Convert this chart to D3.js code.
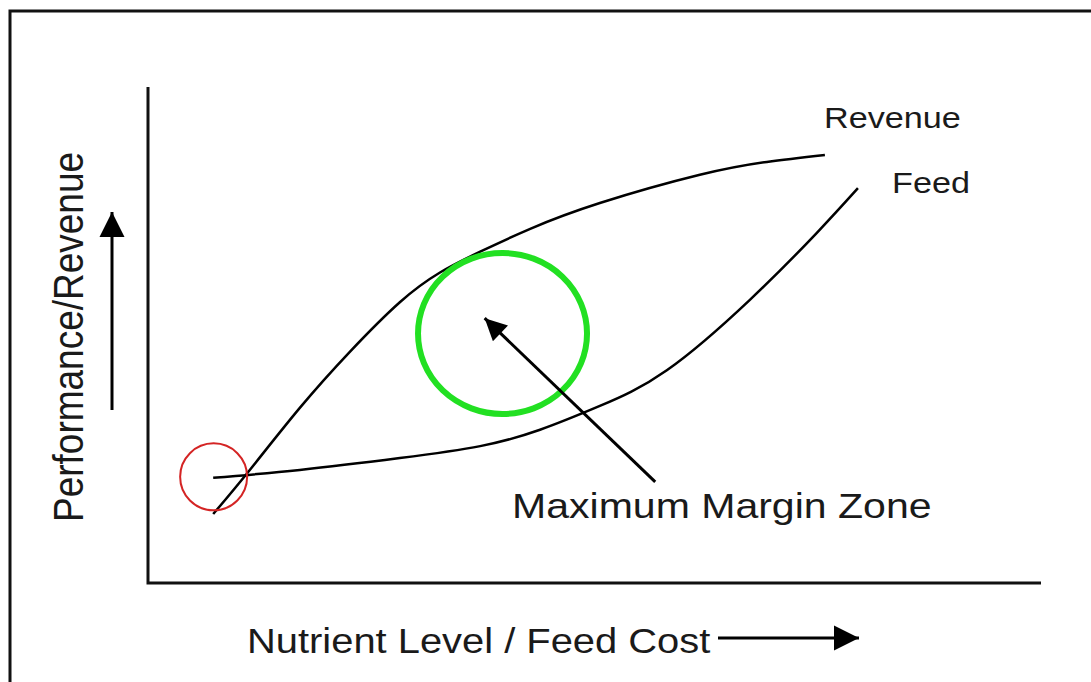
<!DOCTYPE html>
<html>
<head>
<meta charset="utf-8">
<script src="https://cdn.jsdelivr.net/npm/d3@7"></script>
<style>
  body { margin: 0; background: #fff; }
  text { font-family: "Liberation Sans", Arial, sans-serif; fill: #1a1a1a; }
</style>
</head>
<body>
<script>
  var width = 1091;
  var height = 682;

  // curve points, in axis units (0..100)
  var revenueX = [7.3, 11.4, 17.0, 22.6, 28.2, 32.7, 37.2, 42.8, 50.6, 61.8, 69.3, 75.8];
  var revenueY = [13.9, 22.8, 35.3, 46.6, 56.6, 62.6, 66.8, 71.4, 76.6, 82.3, 84.9, 86.3];
  var feedX = [7.3, 17.0, 28.2, 37.2, 43.9, 50.6, 58.1, 67.4, 74.9, 79.5];
  var feedY = [21.2, 22.8, 25.2, 27.6, 30.9, 35.7, 42.9, 57.1, 70.6, 79.6];

  // annotations
  var startZone = [7.35, 21.4];
  var marginZone = [39.7, 50.3];
  var marginArrow = [[56.8, 20.4], [37.7, 53.4]];

  var stretch = 1.14; // text in the picture is drawn a little wide

  var x = d3.scaleLinear().domain([0, 100]).range([148, 1041]);
  var y = d3.scaleLinear().domain([0, 100]).range([583, 87]);

  var svg = d3.select("body")
    .append("svg")
    .attr("width", width)
    .attr("height", height);

  var defs = svg.append("defs");
  defs.append("marker")
    .attr("id", "head")
    .attr("viewBox", "0 0 10 10")
    .attr("refX", 10)
    .attr("refY", 5)
    .attr("markerUnits", "userSpaceOnUse")
    .attr("markerWidth", 25)
    .attr("markerHeight", 26)
    .attr("orient", "auto")
    .append("path")
    .attr("d", "M0,0L10,5L0,10Z")
    .style("fill", "#000");

  defs.append("marker")
    .attr("id", "head2")
    .attr("viewBox", "0 0 10 10")
    .attr("refX", 10)
    .attr("refY", 5)
    .attr("markerUnits", "userSpaceOnUse")
    .attr("markerWidth", 24)
    .attr("markerHeight", 22)
    .attr("orient", "auto")
    .append("path")
    .attr("d", "M0,0L10,5L0,10Z")
    .style("fill", "#000");

  // frame (top and left edges only show)
  svg.append("path")
    .attr("d", "M10," + height + "V11H" + width)
    .style("fill", "none")
    .style("stroke", "#111")
    .style("stroke-width", 3);

  // axes
  svg.append("path")
    .attr("d", "M" + x(0) + "," + y(100) + "V" + y(0) + "H" + x(100))
    .style("fill", "none")
    .style("stroke", "#111")
    .style("stroke-width", 3);

  var line = d3.line()
    .x(function(d) { return x(d[0]); })
    .y(function(d) { return y(d[1]); })
    .curve(d3.curveNatural);

  var revenue = d3.zip(revenueX, revenueY);
  var feed = d3.zip(feedX, feedY);

  svg.selectAll("path.curve")
    .data([revenue, feed])
    .enter()
    .append("path")
    .attr("class", "curve")
    .attr("d", line)
    .style("fill", "none")
    .style("stroke", "#000")
    .style("stroke-width", 2.5);

  svg.append("circle")
    .attr("cx", x(startZone[0]))
    .attr("cy", y(startZone[1]))
    .attr("r", 33.5)
    .style("fill", "none")
    .style("stroke", "#d42424")
    .style("stroke-width", 2);

  svg.append("ellipse")
    .attr("cx", x(marginZone[0]))
    .attr("cy", y(marginZone[1]))
    .attr("rx", 84.5)
    .attr("ry", 80.5)
    .style("fill", "none")
    .style("stroke", "#22e022")
    .style("stroke-width", 6);

  svg.append("line")
    .attr("x1", x(marginArrow[0][0]))
    .attr("y1", y(marginArrow[0][1]))
    .attr("x2", x(marginArrow[1][0]))
    .attr("y2", y(marginArrow[1][1]))
    .style("stroke", "#000")
    .style("stroke-width", 3)
    .attr("marker-end", "url(#head2)");

  function label(txt, px, py, size) {
    svg.append("text")
      .attr("transform", "translate(" + px + "," + py + ") scale(" + stretch + ",1)")
      .style("font-size", size + "px")
      .text(txt);
  }

  label("Revenue", 824, 128, 30);
  label("Feed", 892, 193, 30);
  label("Maximum Margin Zone", 512, 518, 36);
  label("Nutrient Level / Feed Cost", 247, 653, 35);

  svg.append("text")
    .attr("transform", "translate(83,522) scale(" + stretch + ",1) rotate(-90)")
    .style("font-size", "37px")
    .text("Performance/Revenue");

  // direction arrows next to the axis titles
  svg.append("line")
    .attr("x1", 718).attr("y1", 638)
    .attr("x2", 859).attr("y2", 638)
    .style("stroke", "#000")
    .style("stroke-width", 3)
    .attr("marker-end", "url(#head)");

  svg.append("line")
    .attr("x1", 112).attr("y1", 410)
    .attr("x2", 112).attr("y2", 212)
    .style("stroke", "#000")
    .style("stroke-width", 3)
    .attr("marker-end", "url(#head)");
</script>
</body>
</html>
